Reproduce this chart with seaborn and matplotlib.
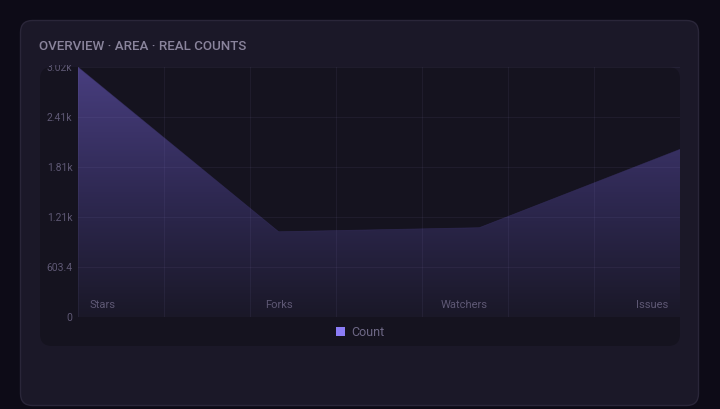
import numpy as np
import pandas as pd
import matplotlib
matplotlib.use("Agg")
import matplotlib.pyplot as plt
import seaborn as sns
from matplotlib.patches import FancyBboxPatch, Patch
from matplotlib.colors import LinearSegmentedColormap
from matplotlib.transforms import Bbox

# ---- data ----
categories = ["Stars", "Forks", "Watchers", "Issues"]
counts = [3017, 1029, 1078, 2024]
tick_values = [0, 603.4, 1206.8, 1810.2, 2413.6, 3017]
tick_labels = ["0", "603.4", "1.21k", "1.81k", "2.41k", "3.02k"]
series_name = "Count"
title = "OVERVIEW · AREA · REAL COUNTS"

W, H = 720, 409
sns.set_theme(style="dark")
plt.rcParams["font.family"] = ["Roboto", "DejaVu Sans"]

fig = plt.figure(figsize=(W / 100, H / 100), dpi=100, facecolor="#0d0b17")

# background axes in pixel units
bg = fig.add_axes([0, 0, 1, 1])
bg.set_xlim(0, W)
bg.set_ylim(H, 0)
bg.axis("off")
bg.add_patch(FancyBboxPatch((20.5, 20.5), 678, 385,
                            boxstyle="round,pad=0,rounding_size=12",
                            fc="#1b1828", ec="#2a2639", lw=1))
bg.add_patch(FancyBboxPatch((40, 67), 640, 279,
                            boxstyle="round,pad=0,rounding_size=12",
                            fc="#15131f", ec="none"))
bg.text(39, 46, title, va="center", ha="left", fontsize=9.6,
        fontweight="medium", color="#8a849c")

# main axes
ax = fig.add_axes([78 / W, 1 - 317 / H, 602 / W, 250 / H])
ax.patch.set_alpha(0)
df = pd.DataFrame({"category": categories, "count": counts,
                   "pos": np.arange(len(categories))})

fill = ax.fill_between(df["pos"], df["count"], 0, facecolor="none",
                       edgecolor="none")
cmap = LinearSegmentedColormap.from_list("g", ["#1a1828", "#2f2953", "#483e7f"])
grad = np.linspace(0, 1, 256).reshape(-1, 1)
img = ax.imshow(grad, extent=[0, len(categories) - 1, 0, tick_values[-1]],
                aspect="auto", cmap=cmap, origin="lower", zorder=1)
img.set_clip_path(fill.get_paths()[0], transform=ax.transData)
sns.lineplot(data=df, x="pos", y="count", ax=ax, color="#3a3268",
             lw=0.5, alpha=0.5, zorder=2)

ax.set_xlim(0, len(categories) - 1)
ax.set_ylim(0, tick_values[-1])
ax.set_xticks(np.arange(8) * (len(categories) - 1) / 7)
ax.set_xticklabels([])
ax.set_yticks(tick_values)
ax.set_yticklabels(tick_labels)
ax.set_xlabel("")
ax.set_ylabel("")
ax.grid(True, color="#9a90d0", alpha=0.08, lw=0.8)
ax.set_axisbelow(False)
for s in ax.spines.values():
    s.set_visible(False)
ax.tick_params(axis="both", length=0, pad=4, labelsize=7.5,
               labelcolor="#5e5874")
clip = Bbox([[0, 0], [W, H - 65]])
for lab in ax.get_yticklabels():
    lab.set_clip_box(clip)
    lab.set_clip_on(True)

# category labels inside plot
offsets = [(12, "left"), (0, "center"), (-15, "center"), (-12, "right")]
for i, cat in enumerate(categories):
    dx, ha = offsets[i]
    ax.annotate(cat, xy=(i, 0), xytext=(dx, 12), textcoords="offset pixels",
                ha=ha, va="center", fontsize=8, color="#5e5874", zorder=5)

fig.legend(handles=[Patch(fc="#8b7cf6", ec="none", label=series_name)],
           loc="center", bbox_to_anchor=(360 / W, 1 - 332 / H),
           frameon=False, handlelength=0.75, handleheight=0.75,
           handletextpad=0.5, fontsize=9, labelcolor="#6e6886")

fig.savefig("out.png", dpi=100, facecolor=fig.get_facecolor())
